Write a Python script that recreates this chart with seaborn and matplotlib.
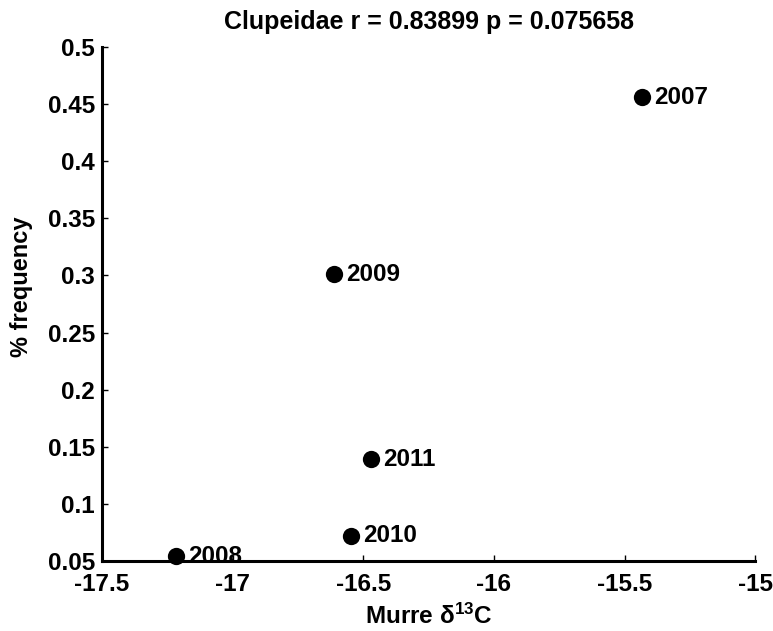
import matplotlib
matplotlib.use("Agg")
import matplotlib.pyplot as plt
import seaborn as sns
import pandas as pd

years = ["2007", "2008", "2009", "2010", "2011"]
murre_d13c = [-15.433, -17.217, -16.612, -16.547, -16.470]
frequency = [0.456, 0.054, 0.301, 0.072, 0.139]
xticks = [-17.5, -17, -16.5, -16, -15.5, -15]
yticks = [0.05, 0.1, 0.15, 0.2, 0.25, 0.3, 0.35, 0.4, 0.45, 0.5]

sns.set_style("ticks")
plt.rcParams['font.family'] = ['Liberation Sans', 'DejaVu Sans']
plt.rcParams['mathtext.fontset'] = 'custom'
plt.rcParams['mathtext.rm'] = 'Liberation Sans:bold'
plt.rcParams['mathtext.it'] = 'Liberation Sans:bold'
plt.rcParams['mathtext.bf'] = 'Liberation Sans:bold'
plt.rcParams['mathtext.default'] = 'rm'
for k in ['text.color', 'axes.labelcolor', 'xtick.color', 'ytick.color', 'axes.edgecolor']:
    plt.rcParams[k] = 'black'

df = pd.DataFrame({"x": murre_d13c, "y": frequency, "year": years})

fig = plt.figure(figsize=(7.73, 6.31), dpi=100)
ax = fig.add_axes([0.132, 0.111, 0.845, 0.8145])
sns.scatterplot(data=df, x="x", y="y", color="black", s=155, edgecolor="black",
                linewidth=0, ax=ax, zorder=2, clip_on=False)
for xv, yv, lab in zip(murre_d13c, frequency, years):
    ax.annotate(lab, (xv, yv), xytext=(8.5, 0), textcoords="offset points",
                ha="left", va="center", fontsize=17.5, fontweight="bold", zorder=2)

ax.set_xlim(-17.5, -15)
ax.set_ylim(0.05, 0.5)
ax.set_xticks(xticks)
ax.set_xticklabels([f"{v:g}" for v in xticks])
ax.set_yticks(yticks)
ax.set_yticklabels([f"{v:g}" for v in yticks])
for s in ["top", "right"]:
    ax.spines[s].set_visible(False)
for s in ["left", "bottom"]:
    ax.spines[s].set_linewidth(2.2)
    ax.spines[s].set_color("black")
    ax.spines[s].set_zorder(3)
ax.tick_params(direction="in", length=4, width=1.0, labelsize=17.5, color="black")
ax.tick_params(axis="x", pad=8.5)
ax.tick_params(axis="y", pad=5)
for t in ax.get_xticklabels() + ax.get_yticklabels():
    t.set_fontweight("bold")
ax.set_xlabel(r"Murre $\delta^{13}$C", fontsize=17.5, fontweight="bold")
ax.xaxis.set_label_coords(0.5, -0.083)
ax.set_ylabel("% frequency", fontsize=17, fontweight="bold")
ax.yaxis.set_label_coords(-0.105, 0.533)
ax.set_title("Clupeidae r = 0.83899 p = 0.075658", fontsize=18, fontweight="bold", pad=13)

fig.savefig("out.png", dpi=100)
